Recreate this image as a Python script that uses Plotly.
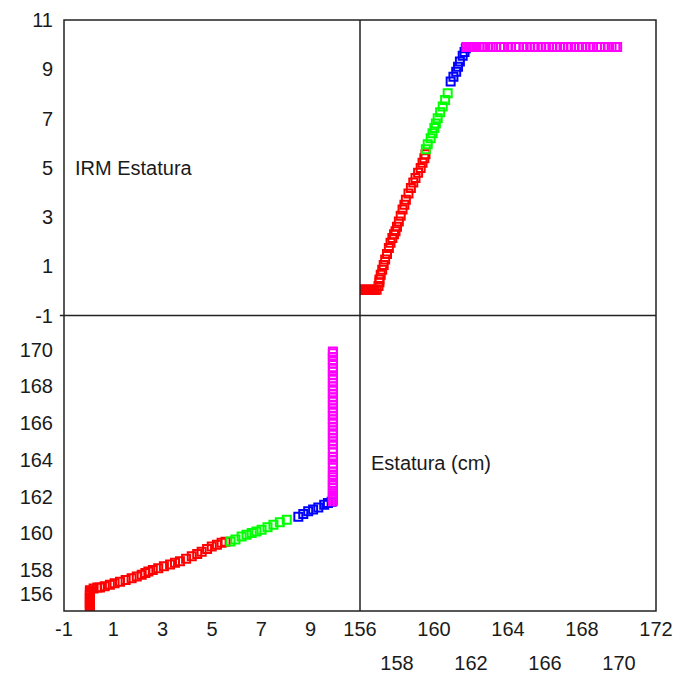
import plotly.graph_objects as go

# ---- data (IRM vs Estatura) ----
irm_red = [0.05]*12 + [0.2, 0.35, 0.46, 0.65, 0.86, 1.05, 1.27, 1.5, 1.74, 1.95, 2.15, 2.3, 2.42, 2.6,
                        2.82, 3.05, 3.3, 3.5, 3.7, 3.95, 4.18, 4.4, 4.58, 4.8, 4.99, 5.2, 5.39, 5.55]
est_red = [155.8, 155.9, 156.0, 156.1, 156.2, 156.3, 156.4, 156.5, 156.6, 156.7, 156.8, 156.9,
           157.0, 157.05, 157.05, 157.12, 157.2, 157.28, 157.36, 157.46, 157.56, 157.65, 157.75, 157.84,
           157.92, 158.0, 158.1, 158.2, 158.3, 158.4, 158.48, 158.62, 158.75, 158.88, 159.0, 159.14,
           159.28, 159.38, 159.48, 159.54]
irm_green = [5.75, 5.95, 6.2, 6.4, 6.61, 6.8, 7.01, 7.25, 7.49, 7.75, 8.03]
est_green = [159.56, 159.66, 159.82, 159.92, 160.02, 160.1, 160.2, 160.33, 160.47, 160.6, 160.74]
irm_blue = [8.5, 8.7, 8.9, 9.1, 9.31, 9.55, 9.7, 9.85]
est_blue = [160.9, 161.05, 161.2, 161.3, 161.4, 161.55, 161.65, 161.72]
est_magenta = [161.75, 161.85, 161.95, 162.05, 162.15, 162.3, 162.45, 162.6, 162.7, 162.9, 163.05,
               163.2, 163.35, 163.6, 163.8, 164.0, 164.15, 164.4, 164.6, 164.85, 165.0, 165.2, 165.45,
               165.6, 165.8, 166.05, 166.2, 166.4, 166.65, 166.8, 167.0, 167.25, 167.4, 167.6, 167.85,
               168.0, 168.2, 168.45, 168.6, 168.8, 169.0, 169.25, 169.4, 169.6, 169.8, 169.9]
irm_magenta = [9.9]*len(est_magenta)

groups = [
    (irm_red, est_red, "#ff0000"),
    (irm_green, est_green, "#00ff00"),
    (irm_blue, est_blue, "#0000ff"),
    (irm_magenta, est_magenta, "#ff00ff"),
]

irm_ticks = [-1, 1, 3, 5, 7, 9, 11]
irm_ticktext = ["-1", "1", "3", "5", "7", "9", "11"]
irm_xticks = [-1, 1, 3, 5, 7, 9]
irm_xticktext = ["-1", "1", "3", "5", "7", "9"]
est_yticks = [156.7, 158, 160, 162, 164, 166, 168, 170]
est_yticktext = ["156", "158", "160", "162", "164", "166", "168", "170"]
est_xticks_row1 = [156, 160, 164, 168, 172]
est_xticks_row2 = [158, 162, 166, 170]

FONT = "Liberation Sans, Arial, sans-serif"
TXT = "#1a1a1a"

fig = go.Figure()
for irm, est, col in groups:
    mk = dict(symbol="square-open", size=8, color=col, line=dict(width=2, color=col))
    fig.add_trace(go.Scatter(x=est, y=irm, xaxis="x2", yaxis="y", mode="markers",
                             marker=mk, showlegend=False))
    fig.add_trace(go.Scatter(x=irm, y=est, xaxis="x", yaxis="y2", mode="markers",
                             marker=mk, showlegend=False))

common = dict(showgrid=False, zeroline=False, showline=False, ticks="", automargin=False,
              tickfont=dict(family=FONT, size=20, color=TXT))

fig.update_layout(
    width=679, height=679,
    margin=dict(l=64, r=23, t=20, b=68),
    paper_bgcolor="white", plot_bgcolor="white",
    xaxis=dict(domain=[0, 0.5], range=[-1, 11], anchor="y2", tickmode="array",
               tickvals=irm_xticks, ticktext=irm_xticktext, ticklabelstandoff=4, **common),
    xaxis2=dict(domain=[0.5, 1], range=[156, 172], anchor="y2", tickmode="array",
                tickvals=est_xticks_row1, ticklabelstandoff=4, **common),
    xaxis3=dict(overlaying="x2", range=[156, 172], anchor="y2", side="bottom", tickmode="array",
                tickvals=est_xticks_row2, ticklabelstandoff=38, **common),
    yaxis=dict(domain=[0.5, 1], range=[-1, 11], anchor="x", tickmode="array",
               tickvals=irm_ticks, ticktext=irm_ticktext, ticklabelstandoff=10, **common),
    yaxis2=dict(domain=[0, 0.5], range=[155.77, 171.86], anchor="x", tickmode="array",
                tickvals=est_yticks, ticktext=est_yticktext, ticklabelstandoff=10, **common),
    annotations=[
        dict(text="IRM Estatura", x=0.015, y=0.75, xref="paper", yref="paper",
             xanchor="left", yanchor="middle", showarrow=False,
             font=dict(family=FONT, size=20, color=TXT)),
        dict(text="Estatura (cm)", x=0.515, y=0.25, xref="paper", yref="paper",
             xanchor="left", yanchor="middle", showarrow=False,
             font=dict(family=FONT, size=20, color=TXT)),
    ],
    shapes=[
        dict(type="rect", xref="paper", yref="paper", x0=0, x1=1, y0=0, y1=1,
             line=dict(color="#222", width=1.5)),
        dict(type="line", xref="paper", yref="paper", x0=0.5, x1=0.5, y0=0, y1=1,
             line=dict(color="#222", width=1.5)),
        dict(type="line", xref="paper", yref="paper", x0=-0.007, x1=1, y0=0.5, y1=0.5,
             line=dict(color="#222", width=1.5)),
    ],
)
# dummy trace so xaxis3 is rendered
fig.add_trace(go.Scatter(x=[None], y=[None], xaxis="x3", yaxis="y2", showlegend=False))

fig.write_html("out.html")
